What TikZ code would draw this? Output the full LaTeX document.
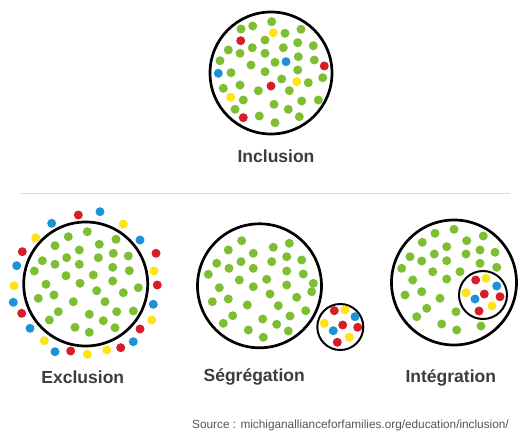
\documentclass[tikz,border=0pt]{standalone}
\usepackage{fontspec}
\setmainfont{Liberation Sans}
\usepackage{tikz}
\definecolor{dotgreen}{RGB}{125,190,50}
\definecolor{dotred}{RGB}{215,30,40}
\definecolor{dotyellow}{RGB}{255,228,20}
\definecolor{dotblue}{RGB}{30,145,215}
\definecolor{labelgray}{RGB}{60,60,60}
\definecolor{sourcegray}{RGB}{85,85,85}
\definecolor{rulegray}{RGB}{222,222,222}

\begin{document}
\begin{tikzpicture}[x=1pt,y=-1pt,
    ring/.style={line width=2.7pt},
    smallring/.style={line width=2pt},
    title/.style={anchor=base,inner sep=0pt,text=labelgray,
      font=\fontsize{17.5}{20}\selectfont\bfseries}]
    \useasboundingbox (0,0) rectangle (530,436);

    % Inclusion: everybody in the same circle
    \draw[ring] (271,73) circle (61pt);
    \foreach \x/\y in {241/29, 252.7/26, 271.7/21.7, 285/33.3, 301/29.3, 265/40,
        297.7/42.7, 313.3/45.7, 228.3/50, 240/53.3, 252.3/47.7, 265/53.3,
        283.3/47.7, 298.3/56.7, 314.3/60, 220/60.7, 251/65, 275/62.3,
        297.7/70, 231/72.7, 265/71.7, 281.7/79, 308.3/82.7, 322.7/77.7,
        240/85, 223.3/88.3, 258.3/90.7, 289.3/90.7, 243.3/100, 274/104.3,
        301.7/101, 318.3/100, 235/109.3, 288.3/109.3, 259.3/116, 275/122.7,
        299.3/116.7} {
        \fill[dotgreen] (\x,\y) circle (4.5pt);
    }
    \foreach \x/\y in {240.7/40.7, 324.3/66, 271/86, 243.3/117.7}
        \fill[dotred] (\x,\y) circle (4.5pt);
    \foreach \x/\y in {273.3/32.7, 296.7/81.7, 230.7/97.3}
        \fill[dotyellow] (\x,\y) circle (4.5pt);
    \foreach \x/\y in {286/61.7, 218.3/73.3}
        \fill[dotblue] (\x,\y) circle (4.5pt);
    \node[title] (inclusion) at (276,162.5) {Inclusion};

    % Separator
    \draw[rulegray, line width=1pt] (20,193.3) -- (510,193.3);

    % Exclusion: the others stay outside
    \draw[ring] (85.7,284) circle (62pt);
    \foreach \x/\y in {87.3/231.7, 68.3/236.7, 116/239.3, 55/245.7, 79.3/250,
        99.3/244.3, 42.3/260.7, 66.7/257.7, 98.3/257.7, 113.3/253.3, 128.3/256,
        55/264.3, 79.3/264.3, 34.3/271, 112.7/267.3, 129.3/270.7, 66/275.7,
        93.3/275, 46/284.3, 80/283.3, 112.7/281, 138.3/287.7, 96.7/290.7,
        38.3/298.3, 54/295, 73.3/301.7, 105/301.7, 123.3/292.7, 58.3/311.7,
        89.3/314.3, 116.7/311.7, 133.3/311, 49.3/320, 103.3/320.7, 75/327.3,
        115/327.7, 89.3/332.3} {
        \fill[dotgreen] (\x,\y) circle (4.5pt);
    }
    \foreach \x/\y in {78.3/215, 22.3/251.7, 156/253.3, 157.3/285, 21.7/313.3,
        140/329, 120.7/347.7, 70.7/351}
        \fill[dotred] (\x,\y) circle (4.5pt);
    \foreach \x/\y in {123.3/224, 35.7/237.7, 154/271, 14/285.7, 151.7/320,
        44.3/340.7, 106.7/350, 87.3/354.3}
        \fill[dotyellow] (\x,\y) circle (4.5pt);
    \foreach \x/\y in {100/211.7, 51.7/223.3, 140/240, 16.7/265.7, 13.3/302.3,
        153.3/304.3, 30/328.3, 133.3/341.7, 55/351.7}
        \fill[dotblue] (\x,\y) circle (4.5pt);
    \node[title] (exclusion) at (82.8,383) {Exclusion};

    % Segregation: the others get a circle of their own
    \draw[ring] (259.5,285.8) circle (62pt);
    \foreach \x/\y in {241.7/240.7, 273.3/247.3, 289.3/243.3, 228.3/250,
        253.3/253.3, 216.7/263.3, 241/261.7, 271.7/261.7, 286.7/256.7,
        301.7/260, 229/268.3, 253.3/268.3, 286.7/271, 208.3/274.3, 303.3/274,
        239.3/280, 266.7/279.3, 313.3/283.3, 219.3/287.7, 253.3/286.7,
        286.7/285, 311.7/291.7, 270/294, 296.7/297.3, 212.3/301.7, 228.3/299,
        247.3/305, 278.3/305.7, 305.7/310.7, 232.7/315.7, 262.7/319, 290/316,
        223.3/323.3, 276.7/324.3, 248.3/330, 288.3/331, 263.3/337.3} {
        \fill[dotgreen] (\x,\y) circle (4.5pt);
    }
    \draw[smallring, fill=white] (340.3,327) circle (23pt);
    \foreach \x/\y in {334.3/310.7, 342.7/325, 357.7/327.3, 337.3/342.3}
        \fill[dotred] (\x,\y) circle (4.5pt);
    \foreach \x/\y in {345/310, 324.3/323.3, 349.3/337.3}
        \fill[dotyellow] (\x,\y) circle (4.5pt);
    \foreach \x/\y in {355/316.7, 333.3/330.7}
        \fill[dotblue] (\x,\y) circle (4.5pt);
    \node[title] (segregation) at (254.2,381.7) {Ségrégation};

    % Integration: a small circle inside the big one
    \draw[ring] (454,282.5) circle (62.5pt);
    \foreach \x/\y in {435/233.3, 454/229.3, 422.3/242.3, 466.7/240.7, 483.3/236,
        446.7/246.7, 410/256.7, 434.3/254, 466/254, 480/250, 495/252.3,
        421.7/261, 446.7/260.7, 401.7/268.3, 480/263.3, 496.7/267.3,
        432.7/271.7, 460/271.7, 412.7/280, 446.7/279, 421.7/291.7, 405/295,
        440/298.3, 426.7/308.3, 456/311.7, 416.7/316.7, 441.7/324, 456.7/330,
        481/326} {
        \fill[dotgreen] (\x,\y) circle (4.5pt);
    }
    \draw[smallring] (483,295) circle (24pt);
    \foreach \x/\y in {475.7/280, 484.3/294, 500/296.7, 479/311}
        \fill[dotred] (\x,\y) circle (4.5pt);
    \foreach \x/\y in {486/278.3, 466/292.7, 492/306}
        \fill[dotyellow] (\x,\y) circle (4.5pt);
    \foreach \x/\y in {496.7/286, 475/299}
        \fill[dotblue] (\x,\y) circle (4.5pt);
    \node[title] (integration) at (450.8,382.7) {Intégration};

    % Source line
    \node[anchor=base west, inner sep=0pt, text=sourcegray,
        font=\fontsize{11.8}{14}\selectfont] (source) at (192,428.3)
        {Source : michiganallianceforfamilies.org/education/inclusion/};
\end{tikzpicture}
\end{document}
